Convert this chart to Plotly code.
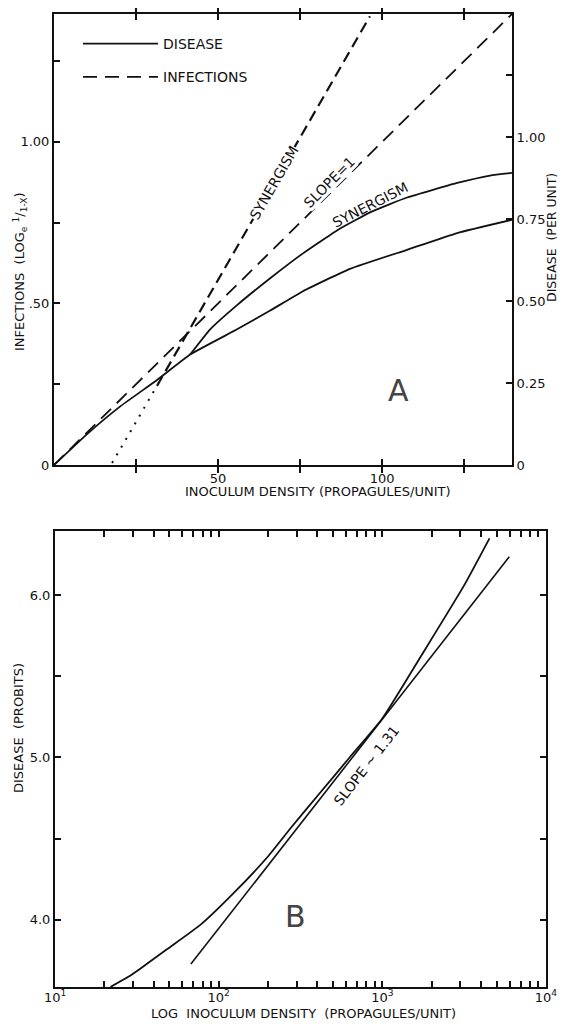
import plotly.graph_objects as go

# ---------------- Panel A data (inoculum density in propagules/unit) ----------------
A_SLOPE1_X = [0, 139.6]
A_SLOPE1_Y = [0, 1.396]
A_SYN_INF_X = [31.4, 96.3]
A_SYN_INF_Y = [0.245, 1.389]
A_SYN_DOT_X = [17.7, 31.4]
A_SYN_DOT_Y = [0.006, 0.245]
A_DIS_X = [0, 10, 20, 31.4, 41.5, 55.8, 65.9, 75.9, 90.2, 107.6, 122.9, 139.6]
A_DIS_Y = [0, 0.095, 0.18, 0.263, 0.342, 0.42, 0.478, 0.538, 0.607, 0.666, 0.718, 0.759]
A_SYN_DIS_X = [41.5, 47.6, 55.8, 65.9, 75.9, 87.2, 97.0, 107.6, 122.9, 132.9, 139.6]
A_SYN_DIS_Y = [0.342, 0.42, 0.495, 0.578, 0.655, 0.732, 0.785, 0.828, 0.873, 0.896, 0.904]

A_X_TICKS = [25, 50, 75, 100, 125]
A_X_LABELS = ["", "50", "", "100", ""]
A_Y_TICKS = [0, 0.25, 0.5, 0.75, 1.0, 1.25]
A_Y_LABELS = ["0", "", ".50", "", "1.00", ""]
A_Y2_TICKS = [0, 0.25, 0.5, 0.75, 1.0, 1.19]
A_Y2_LABELS = ["0", "0.25", "0.50", "0.75", "1.00", ""]

# ---------------- Panel B data ----------------
B_CURVE_X = [21.8, 28.2, 33.3, 48.5, 77.6, 125, 200, 278, 407, 631, 1000, 1738, 3162, 4519]
B_CURVE_Y = [3.586, 3.65, 3.70, 3.82, 3.97, 4.17, 4.39, 4.57, 4.77, 5.00, 5.24, 5.63, 6.06, 6.35]
B_LINE_X = [67.6, 5970]
B_LINE_Y = [3.727, 6.236]

B_X_TICKS = [d * m for d in (10, 100, 1000) for m in range(1, 10)] + [10000]
B_X_LABELS = [("10<sup>%d</sup>" % (len(str(v)) - 1)) if str(v).strip("0") == "1" else "" for v in B_X_TICKS]
B_Y_TICKS = [4.0, 4.5, 5.0, 5.5, 6.0]
B_Y_LABELS = ["4.0", "", "5.0", "", "6.0"]

# the page adds an 8px body margin, so the figure is sized to fit inside the window
OFF = 8
W, H = 566 - 2 * OFF, 1028 - 2 * OFF
FONT = "DejaVu Sans"
INK = "#111111"


def px(x):
    return (x - OFF) / W


def py(y):
    return 1 - (y - OFF) / H


fig = go.Figure()

# Panel A traces
fig.add_trace(go.Scatter(x=A_DIS_X, y=A_DIS_Y, mode="lines", name="DISEASE",
                         line=dict(color=INK, width=1.8, shape="spline", smoothing=0.4),
                         xaxis="x", yaxis="y", legendgroup="d", showlegend=True))
fig.add_trace(go.Scatter(x=A_SYN_DIS_X, y=A_SYN_DIS_Y, mode="lines", name="DISEASE syn",
                         line=dict(color=INK, width=1.8, shape="spline", smoothing=0.4),
                         xaxis="x", yaxis="y", showlegend=False))
fig.add_trace(go.Scatter(x=A_SLOPE1_X, y=A_SLOPE1_Y, mode="lines", name="INFECTIONS",
                         line=dict(color=INK, width=1.8, dash="14px,8px"),
                         xaxis="x", yaxis="y", legendgroup="i", showlegend=True))
fig.add_trace(go.Scatter(x=A_SYN_INF_X, y=A_SYN_INF_Y, mode="lines", name="INFECTIONS syn",
                         line=dict(color=INK, width=2.2, dash="11px,6px"),
                         xaxis="x", yaxis="y", showlegend=False))
fig.add_trace(go.Scatter(x=A_SYN_DOT_X, y=A_SYN_DOT_Y, mode="lines", name="extrapolation",
                         line=dict(color=INK, width=2, dash="2px,7px"),
                         xaxis="x", yaxis="y", showlegend=False))
# invisible anchor so the right-hand axis is drawn
fig.add_trace(go.Scatter(x=[0], y=[0], mode="markers", marker=dict(opacity=0),
                         xaxis="x", yaxis="y2", showlegend=False, hoverinfo="skip"))

# Panel B traces
fig.add_trace(go.Scatter(x=B_CURVE_X, y=B_CURVE_Y, mode="lines",
                         line=dict(color=INK, width=1.8, shape="spline", smoothing=0.5),
                         xaxis="x2", yaxis="y3", showlegend=False))
fig.add_trace(go.Scatter(x=B_LINE_X, y=B_LINE_Y, mode="lines",
                         line=dict(color=INK, width=1.6),
                         xaxis="x2", yaxis="y3", showlegend=False))

tickfont = dict(family=FONT, size=13, color=INK)
common = dict(showgrid=False, zeroline=False, showline=True, linecolor=INK, linewidth=2,
              ticks="inside", ticklen=6, tickwidth=1.5, tickcolor=INK, tickfont=tickfont,
              automargin=False, fixedrange=True)

fig.update_layout(
    width=W, height=H,
    margin=dict(l=0, r=0, t=0, b=0),
    paper_bgcolor="white", plot_bgcolor="white",
    font=dict(family=FONT, color=INK),
    xaxis=dict(domain=[px(54), px(512)], range=[0, 139.6], anchor="y",
               tickmode="array", tickvals=A_X_TICKS, ticktext=A_X_LABELS,
               mirror="allticks", **common),
    yaxis=dict(domain=[py(465), py(14)], range=[0, 1.396], anchor="x",
               tickmode="array", tickvals=A_Y_TICKS, ticktext=A_Y_LABELS,
               mirror=True, **common),
    yaxis2=dict(domain=[py(465), py(14)], range=[0, 1.375], anchor="x", overlaying="y",
                side="right", tickmode="array", tickvals=A_Y2_TICKS, ticktext=A_Y2_LABELS,
                **common),
    xaxis2=dict(domain=[px(55), px(546)], type="log", range=[0.9995, 4.0005], anchor="y3",
                tickmode="array", tickvals=B_X_TICKS, ticktext=B_X_LABELS,
                mirror="allticks", ticklabelstandoff=-3, **common),
    yaxis3=dict(domain=[py(987), py(531)], range=[3.586, 6.395], anchor="x2",
                tickmode="array", tickvals=B_Y_TICKS, ticktext=B_Y_LABELS,
                mirror="allticks", **common),
    showlegend=True,
    legend=dict(x=px(78), y=py(28), xanchor="left", yanchor="top",
                font=dict(family=FONT, size=14, color=INK),
                traceorder="grouped", tracegroupgap=12, itemwidth=75,
                bgcolor="rgba(0,0,0,0)"),
)

lab = dict(family=FONT, size=13, color=INK)
lab14 = dict(family=FONT, size=14, color=INK)
big = dict(family=FONT, size=30, color="#444444")
C = dict(xanchor="center", yanchor="middle", showarrow=False)
ann = [
    # axis titles
    dict(text="INOCULUM DENSITY (PROPAGULES/UNIT)", x=px(318), y=py(491), xref="paper", yref="paper",
         font=lab, **C),
    dict(text="INFECTIONS  (LOG<sub>e</sub> <sup>1</sup>/<sub>1-X</sub>)", x=px(20), y=py(272),
         xref="paper", yref="paper", textangle=-90, font=lab, **C),
    dict(text="DISEASE  (PER UNIT)", x=px(551), y=py(238), xref="paper", yref="paper",
         textangle=-90, font=dict(family=FONT, size=12.5, color=INK), **C),
    dict(text="LOG  INOCULUM DENSITY  (PROPAGULES/UNIT)", x=px(303), y=py(1013), xref="paper",
         yref="paper", font=lab, **C),
    dict(text="DISEASE  (PROBITS)", x=px(18), y=py(728), xref="paper", yref="paper",
         textangle=-90, font=lab, **C),
    # panel A labels
    dict(text="SYNERGISM", x=67, y=0.873, xref="x", yref="y", textangle=-60,
         font=lab14, bgcolor="white", borderpad=0, **C),
    dict(text="SLOPE=1", x=84, y=0.875, xref="x", yref="y", textangle=-45,
         font=lab14, bgcolor="white", borderpad=0, **C),
    dict(text="SYNERGISM", x=96.3, y=0.805, xref="x", yref="y", textangle=-27, font=lab14, **C),
    dict(text="A", x=104.9, y=0.232, xref="x", yref="y", font=big, **C),
    # panel B labels
    dict(text="SLOPE ~ 1.31", x=2.9, y=4.95, xref="x2", yref="y3", textangle=-52, font=lab14, **C),
    dict(text="B", x=2.47, y=4.02, xref="x2", yref="y3", font=big, **C),
]
fig.update_layout(annotations=ann)

fig.write_html("out.html")
